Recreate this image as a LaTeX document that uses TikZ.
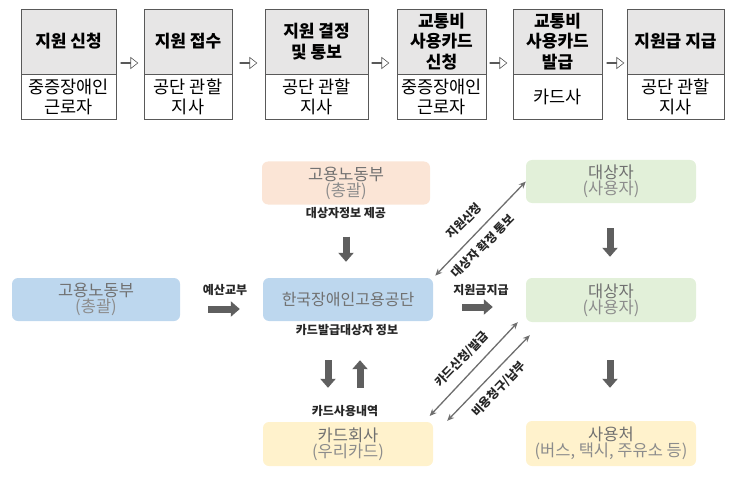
\documentclass[tikz,border=0pt]{standalone}
\usepackage{fontspec}
\setmainfont{Noto Sans CJK KR}
\usetikzlibrary{positioning,shapes.arrows,arrows.meta}
\definecolor{StepLine}{HTML}{595959}
\definecolor{StepHead}{HTML}{E7E6E6}
\definecolor{OrgBlue}{HTML}{BDD7EE}
\definecolor{OrgPeach}{HTML}{FBE5D6}
\definecolor{OrgGreen}{HTML}{E2F0D9}
\definecolor{OrgYellow}{HTML}{FFF2CC}
\definecolor{OrgText}{HTML}{707070}
\definecolor{OrgSub}{HTML}{8C8C8C}
\definecolor{FlowArrow}{HTML}{5F5F5F}
\definecolor{FlowLine}{HTML}{6E6E6E}
\definecolor{FlowText}{HTML}{262626}

\begin{document}
\begin{tikzpicture}[x=1pt,y=-1pt,
    stephead/.style={draw=StepLine, fill=StepHead, align=center, inner sep=0pt,
      font=\fontsize{17}{20.5}\selectfont\bfseries, minimum height=65pt},
    stepfoot/.style={draw=StepLine, fill=white, align=center, inner sep=0pt,
      font=\fontsize{17.5}{20}\selectfont, minimum height=45pt},
    hollowarrow/.style={single arrow, draw=StepLine, fill=white, line width=0.6pt,
      minimum height=17pt, minimum width=11pt, single arrow head extend=3pt,
      single arrow tip angle=76, inner sep=0pt},
    orgbox/.style={rounded corners=6pt, minimum width=170pt, minimum height=43pt,
      align=center, inner sep=0pt, text=OrgText, font=\fontsize{16.5}{16}\selectfont},
    flowlabel/.style={text=FlowText, font=\fontsize{12}{13}\selectfont\bfseries, inner sep=1pt},
    blockarrow/.style={FlowArrow, line width=7pt, -{Triangle[width=15pt,length=9pt]}},
    linkarrow/.style={FlowLine, line width=1.3pt,
      {Stealth[length=7pt,width=6pt]}-{Stealth[length=7pt,width=6pt]}}]
    \useasboundingbox (0,0) rectangle (743,481);

    % procedure steps
    \foreach \i/\cx/\w/\head/\foot in {
        1/68.5/95/{지원 신청}/{중증장애인\\근로자},
        2/188/88/{지원 접수}/{공단 관할\\지사},
        3/316.5/103/{지원 결정\\및 통보}/{공단 관할\\지사},
        4/441.5/89/{교통비\\사용카드\\신청}/{중증장애인\\근로자},
        5/557.5/89/{교통비\\사용카드\\발급}/{카드사},
        6/675.5/97/{지원급 지급}/{공단 관할\\지사}} {
      \node[stephead, minimum width=\w pt] (head\i) at (\cx,41.5) {\head};
      \node[stepfoot, minimum width=\w pt] (foot\i) at (\cx,96.5) {\foot};
    }
    \foreach \i/\ax in {1/129,2/248,3/380,4/498,5/615} {
      \node[hollowarrow] (next\i) at (\ax,63) {};
    }

    % organisations
    \node[orgbox, fill=OrgBlue, minimum width=168pt] (minL) at (96,299.5) {고용노동부\\{\color{OrgSub}(총괄)}};
    \node[orgbox, fill=OrgPeach, minimum width=168pt] (minT) at (346,183) {고용노동부\\{\color{OrgSub}(총괄)}};
    \node[orgbox, fill=OrgBlue, font=\fontsize{16}{17}\selectfont] (kead) at (348,299.5) {한국장애인고용공단};
    \node[orgbox, fill=OrgGreen] (userT) at (611,181.5) {대상자\\{\color{OrgSub}(사용자)}};
    \node[orgbox, fill=OrgGreen, minimum height=44pt] (userM) at (611,300) {대상자\\{\color{OrgSub}(사용자)}};
    \node[orgbox, fill=OrgYellow, minimum height=44pt] (card) at (348,444) {카드회사\\{\color{OrgSub}(우리카드)}};
    \node[orgbox, fill=OrgYellow, minimum height=45pt] (shop) at (611,443.5) {사용처\\{\color{OrgSub}(버스, 택시, 주유소 등)}};

    \node[flowlabel] (infoLbl) at (346,213) {대상자정보 제공};
    \node[flowlabel] (budgetLbl) at (225,290) {예산교부};
    \node[flowlabel] (payLbl) at (481,290) {지원금지급};
    \node[flowlabel] (issueLbl) at (347,330) {카드발급대상자 정보};
    \node[flowlabel] (usageLbl) at (345,411) {카드사용내역};
    \node[flowlabel, rotate=45] (applyLbl) at (464,221) {지원신청};
    \node[flowlabel, rotate=45] (confirmLbl) at (483,246) {대상자 확정 통보};
    \node[flowlabel, rotate=46] (cardReqLbl) at (462,359) {카드신청/발급};
    \node[flowlabel, rotate=46] (billLbl) at (499,389) {비용청구/납부};

    % flows
    \draw[blockarrow, shorten <=32pt, shorten >=16pt] (minT.south) -- (minT.south |- kead.north);
    \draw[blockarrow, shorten <=28pt, shorten >=23pt] ([yshift=-9.5pt]minL.east) -- ([yshift=-9.5pt]kead.west);
    \draw[blockarrow, shorten <=29pt, shorten >=33pt] ([yshift=-7.5pt]kead.east) -- ([yshift=-7.5pt]kead.east -| userM.west);
    \draw[blockarrow, shorten <=25pt, shorten >=21pt] ([xshift=-1pt]userT.south) -- ([xshift=-1pt]userM.north);
    \draw[blockarrow, shorten <=39pt, shorten >=34pt] ([xshift=-20pt]kead.south) -- ([xshift=-20pt]card.north);
    \draw[blockarrow, shorten <=34pt, shorten >=39pt] ([xshift=12pt]card.north) -- ([xshift=12pt]kead.south);
    \draw[blockarrow, shorten <=38pt, shorten >=33pt] ([xshift=-1pt]userM.south) -- ([xshift=-1pt]shop.north);

    \draw[linkarrow, shorten <=3pt] (kead.north east) -- (userT.west);
    \draw[linkarrow, shorten <=8pt] ([xshift=-9pt]card.north east) -- ([xshift=-8pt]userM.south west);
    \draw[linkarrow] ([xshift=14pt,yshift=1pt]card.north east) -- ([xshift=4pt,yshift=-13pt]userM.south west);
  \end{tikzpicture}
\end{document}
